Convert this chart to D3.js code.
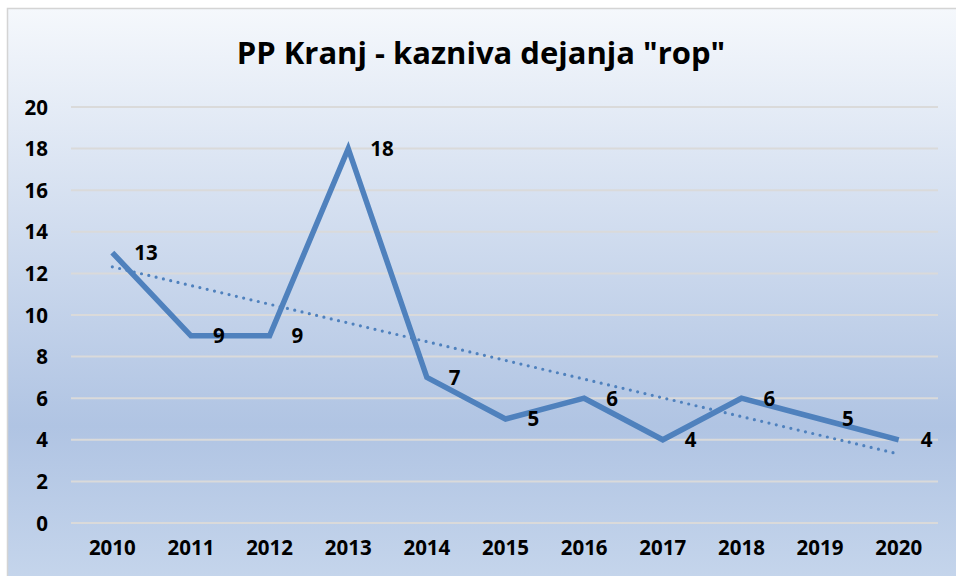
<!DOCTYPE html>
<html lang="sl">
<head>
    <meta charset="UTF-8">
    <title>PP Kranj - kazniva dejanja "rop"</title>
    <style>
        body { margin: 0; background: #fff; }
        text { font-family: "Open Sans", "Liberation Sans", sans-serif; font-weight: bold; fill: #000; }
    </style>
</head>
<body>
    <svg width="956" height="576" id="svg"></svg>
    <script src="https://d3js.org/d3.v7.min.js"></script>
    <script>
        // data
        let years = ['2010', '2011', '2012', '2013', '2014', '2015', '2016', '2017', '2018', '2019', '2020']
        let values = [13, 9, 9, 18, 7, 5, 6, 4, 6, 5, 4]
        let yTicks = [0, 2, 4, 6, 8, 10, 12, 14, 16, 18, 20]
        let title = 'PP Kranj - kazniva dejanja "rop"'

        var svg = d3.select("svg")

        // background gradient like the office chart style
        var defs = svg.append("defs")
        var grad = defs.append("linearGradient").attr("id", "bg")
            .attr("x1", 0).attr("y1", 0).attr("x2", 0).attr("y2", 1)
        grad.append("stop").attr("offset", "0%").attr("stop-color", "#F5F8FC")
        grad.append("stop").attr("offset", "72%").attr("stop-color", "#B0C4E3")
        grad.append("stop").attr("offset", "100%").attr("stop-color", "#C6D6EC")

        svg.append("rect")
            .attr("x", 7.5).attr("y", 8.5)
            .attr("width", 960).attr("height", 580)
            .attr("fill", "url(#bg)")
            .attr("stroke", "#D4D4D4")
            .attr("stroke-width", 1.5)

        var xScale = d3.scaleBand().domain(years).range([73, 938])
        var yScale = d3.scaleLinear().domain([0, 20]).range([523, 107])
        var cx = d => xScale(d) + xScale.bandwidth() / 2

        // gridlines
        svg.append("g")
            .selectAll("line")
            .data(yTicks)
            .enter()
            .append("line")
            .attr("x1", 71).attr("x2", 938)
            .attr("y1", d => yScale(d)).attr("y2", d => yScale(d))
            .attr("stroke", "#DADADA")
            .attr("stroke-width", 2)

        // y axis labels
        svg.append("g")
            .call(d3.axisLeft(yScale).tickValues(yTicks).tickSize(0).tickPadding(0))
            .attr("transform", "translate(48,0)")
            .call(g => g.select(".domain").remove())
            .selectAll("text")
            .style("font-size", "20.5px")
            .attr("dy", "0.35em")

        // x axis labels
        svg.append("g")
            .call(d3.axisBottom(xScale).tickSize(0).tickPadding(0))
            .attr("transform", "translate(0,540)")
            .call(g => g.select(".domain").remove())
            .selectAll("text")
            .style("font-size", "20.5px")
            .attr("dy", "0.71em")

        // linear trendline (least squares over the data, as the spreadsheet does)
        var n = values.length
        var mx = d3.mean(d3.range(n)), my = d3.mean(values)
        var slope = d3.sum(values, (v, i) => (i - mx) * (v - my)) / d3.sum(d3.range(n), i => (i - mx) * (i - mx))
        var trend = [0, n - 1].map(i => [years[i], my + slope * (i - mx)])

        svg.append("path")
            .datum(trend)
            .attr("d", d3.line().x(d => cx(d[0])).y(d => yScale(d[1])))
            .attr("fill", "none")
            .attr("stroke", "#4F81BD")
            .attr("stroke-width", 3.2)
            .attr("stroke-linecap", "round")
            .attr("stroke-dasharray", "0 7.5")

        // main line
        var pts = years.map((y, i) => [y, values[i]])
        svg.append("path")
            .datum(pts)
            .attr("d", d3.line().x(d => cx(d[0])).y(d => yScale(d[1])))
            .attr("fill", "none")
            .attr("stroke", "#4F81BD")
            .attr("stroke-width", 5.5)
            .attr("stroke-linejoin", "miter")

        // data labels
        svg.append("g")
            .selectAll("text")
            .data(pts)
            .enter()
            .append("text")
            .attr("x", d => cx(d[0]) + 22)
            .attr("y", d => yScale(d[1]))
            .attr("dy", "0.36em")
            .style("font-size", "20.5px")
            .text(d => d[1])

        svg.append("text")
            .attr("x", 481).attr("y", 64)
            .attr("text-anchor", "middle")
            .style("font-size", "31px")
            .text(title)
    </script>
</body>
</html>
